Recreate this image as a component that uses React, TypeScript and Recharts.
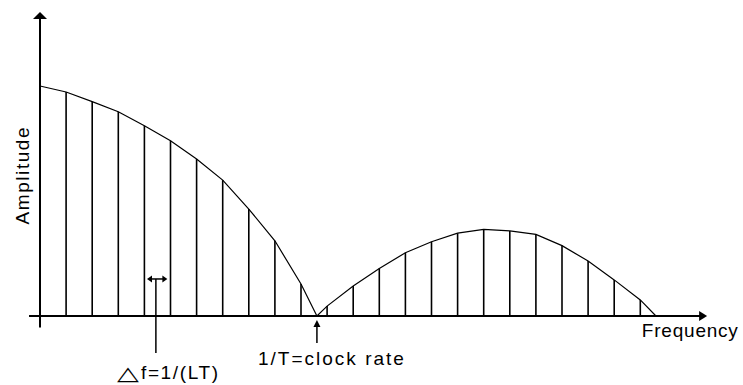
import { ComposedChart, Line, XAxis, YAxis, ReferenceLine, ReferenceDot } from "recharts";

// spectral lines, 1/(LT) apart; index 0 sits on the amplitude axis
const lineIndex = [0, 1, 2, 3, 4, 5, 6, 7, 8, 9, 10, 11, 12, 13, 14, 15, 16, 17, 18, 19, 20, 21, 22, 23];
// line heights relative to the main lobe peak
const lineAmp = [
  1.0, 0.974, 0.932, 0.888, 0.827, 0.762, 0.683, 0.591, 0.465, 0.327, 0.139,
  0.043, 0.13, 0.207, 0.275, 0.323, 0.36, 0.377, 0.37, 0.355, 0.306, 0.239, 0.157, 0.07,
];
// envelope zeros: 1/T (clock rate) and end of the second lobe
const nullFreq = [10.61, 23.6];

const envelope = [
  ...lineIndex.map((f, i) => ({ f, a: lineAmp[i] })),
  ...nullFreq.map((f) => ({ f, a: 0 })),
].sort((p, q) => p.f - q.f);

const FONT = "'Liberation Sans', Arial, sans-serif";

function tri(pts: (cx: number, cy: number) => string) {
  return (p: any) => <polygon points={pts(p.cx, p.cy)} fill="#000" stroke="none" />;
}

function txt(value: string, len: number, anchor: "start" | "middle" = "start", rotate = false) {
  return (p: any) => (
    <text
      x={p.cx}
      y={p.cy}
      textAnchor={anchor}
      fontFamily={FONT}
      fontSize={19}
      fill="#000"
      textLength={len}
      lengthAdjust="spacing"
      transform={rotate ? `rotate(-90 ${p.cx} ${p.cy})` : undefined}
    >
      {value}
    </text>
  );
}

// the delta glyph is wide and flat in the original, so stretch it
function deltaLabel(p: any) {
  return (
    <g>
      <text
        transform={`translate(${p.cx} ${p.cy + 1}) scale(1.5 1)`}
        fontFamily="'DejaVu Sans', sans-serif"
        fontSize={19}
        fill="#000"
      >
        △
      </text>
      <text x={p.cx + 24} y={p.cy} fontFamily={FONT} fontSize={19} fill="#000" textLength={77} lengthAdjust="spacing">
        f=1/(LT)
      </text>
    </g>
  );
}

export default function App() {
  const clock = nullFreq[0];
  const df = 4.44;
  return (
    <div style={{ position: "absolute", left: 0, top: 0, background: "#fff" }}>
      <ComposedChart
        width={743}
        height={385}
        data={envelope}
        margin={{ top: 5.5, right: 24.4, bottom: 0, left: 13.9 }}
      >
        <XAxis dataKey="f" type="number" domain={[-1, 26]} hide allowDataOverflow />
        <YAxis type="number" domain={[-0.3, 1.35]} hide allowDataOverflow />

        {/* axes */}
        <ReferenceLine segment={[{ x: 0, y: -0.05 }, { x: 0, y: 1.295 }]} stroke="#000" strokeWidth={2} ifOverflow="visible" />
        <ReferenceLine segment={[{ x: -0.42, y: 0 }, { x: 25.3, y: 0 }]} stroke="#000" strokeWidth={2} ifOverflow="visible" />
        <ReferenceDot x={0} y={1.322} ifOverflow="visible" shape={tri((x, y) => `${x},${y} ${x - 7},${y + 7} ${x + 7},${y + 7}`)} />
        <ReferenceDot x={25.56} y={0} ifOverflow="visible" shape={tri((x, y) => `${x},${y} ${x - 8},${y - 5} ${x - 8},${y + 5}`)} />

        {/* spectral lines */}
        {lineIndex.map((f, i) => (
          <ReferenceLine
            key={f}
            segment={[{ x: f, y: 0 }, { x: f, y: lineAmp[i] }]}
            stroke="#000"
            strokeWidth={1.6}
            ifOverflow="visible"
          />
        ))}

        <Line
          dataKey="a"
          type="linear"
          stroke="#000"
          strokeWidth={1.2}
          dot={false}
          isAnimationActive={false}
        />

        {/* 1/T marker */}
        <ReferenceLine segment={[{ x: clock, y: -0.117 }, { x: clock, y: -0.03 }]} stroke="#000" strokeWidth={1.5} ifOverflow="visible" />
        <ReferenceDot x={clock} y={-0.017} ifOverflow="visible" shape={tri((x, y) => `${x},${y} ${x - 3.5},${y + 7} ${x + 3.5},${y + 7}`)} />

        {/* delta f marker */}
        <ReferenceLine segment={[{ x: df, y: -0.161 }, { x: df, y: 0.161 }]} stroke="#000" strokeWidth={1.5} ifOverflow="visible" />
        <ReferenceLine segment={[{ x: 4.2, y: 0.161 }, { x: 4.78, y: 0.161 }]} stroke="#000" strokeWidth={1.5} ifOverflow="visible" />
        <ReferenceDot x={4.1} y={0.161} ifOverflow="visible" shape={tri((x, y) => `${x},${y} ${x + 5},${y - 3.5} ${x + 5},${y + 3.5}`)} />
        <ReferenceDot x={4.88} y={0.161} ifOverflow="visible" shape={tri((x, y) => `${x},${y} ${x - 5},${y - 3.5} ${x - 5},${y + 3.5}`)} />

        {/* labels */}
        <ReferenceDot x={-0.421} y={0.609} ifOverflow="visible" shape={txt("Amplitude", 97, "middle", true)} />
        <ReferenceDot x={23.06} y={-0.091} ifOverflow="visible" shape={txt("Frequency", 96)} />
        <ReferenceDot x={8.35} y={-0.213} ifOverflow="visible" shape={txt("1/T=clock rate", 146)} />
        <ReferenceDot x={2.95} y={-0.274} ifOverflow="visible" shape={deltaLabel} />
      </ComposedChart>
    </div>
  );
}
